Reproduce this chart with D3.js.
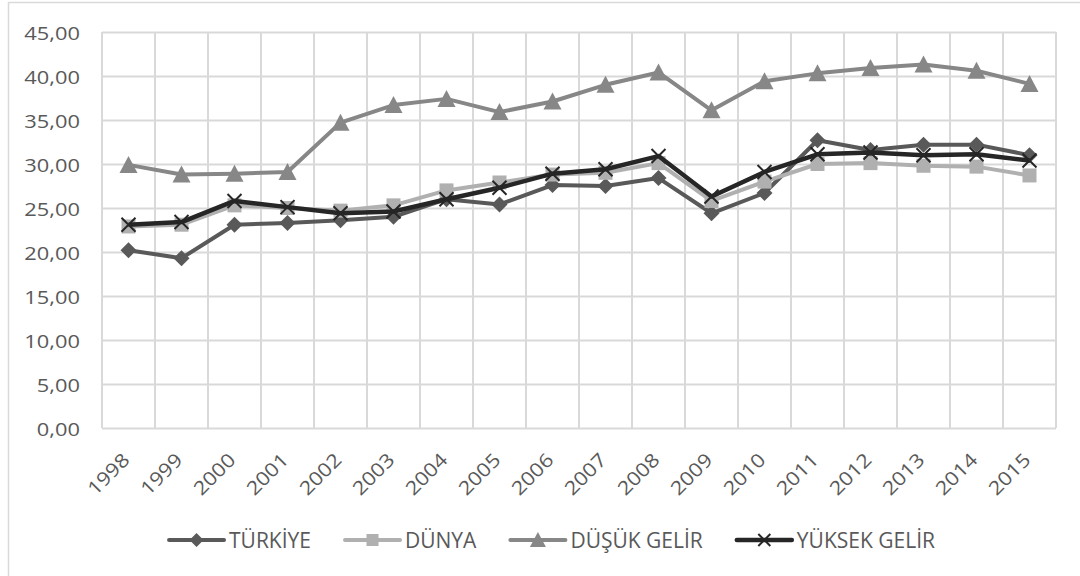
<!DOCTYPE html>
<html>
<head>
<meta charset="utf-8">
<script src="https://cdn.jsdelivr.net/npm/d3@7"></script>
<style>
  body { margin: 0; background: #fff; }
  text { font-family: "Open Sans", sans-serif; fill: #595959; }
</style>
</head>
<body>
<div id="chart"></div>
<script>
const years = ["1998", "1999", "2000", "2001", "2002", "2003", "2004", "2005", "2006",
  "2007", "2008", "2009", "2010", "2011", "2012", "2013", "2014", "2015"];
const turkiye = [20.2, 19.3, 23.1, 23.3, 23.6, 24.0, 26.0, 25.4, 27.6, 27.5, 28.4, 24.4, 26.7, 32.7, 31.6, 32.2, 32.2, 31.0];
const dunya = [22.9, 23.1, 25.3, 25.0, 24.7, 25.3, 27.0, 27.9, 28.8, 29.0, 30.1, 25.8, 28.0, 30.0, 30.1, 29.8, 29.7, 28.7];
const dusukGelir = [29.9, 28.8, 28.9, 29.1, 34.7, 36.7, 37.4, 35.9, 37.1, 39.0, 40.4, 36.1, 39.4, 40.3, 40.9, 41.3, 40.6, 39.1];
const yuksekGelir = [23.1, 23.4, 25.8, 25.1, 24.4, 24.6, 26.0, 27.3, 28.9, 29.4, 30.9, 26.3, 29.1, 31.1, 31.3, 31.0, 31.1, 30.4];
const yTicks = [0, 5, 10, 15, 20, 25, 30, 35, 40, 45];

const WIDTH = 1080;
const HEIGHT = 576;
const PLOT = { LEFT: 102, RIGHT: 1056, TOP: 32, BOTTOM: 428 };
const GRID_COLOR = "#d9d9d9";
const TEXT_STRETCH = 1.15; // the reference glyphs are drawn wider than normal

const series = [
  { name: "TÜRKİYE", values: turkiye, color: "#595959", marker: "diamond", width: 4 },
  { name: "DÜNYA", values: dunya, color: "#b0b0b0", marker: "square", width: 4 },
  { name: "DÜŞÜK GELİR", values: dusukGelir, color: "#878787", marker: "triangle", width: 4 },
  { name: "YÜKSEK GELİR", values: yuksekGelir, color: "#262626", marker: "cross", width: 4.5 },
];

const svg = d3.select("#chart").append("svg").attr("width", WIDTH).attr("height", HEIGHT);

// chart frame (top and left edges are all that show in the picture)
svg.append("path")
  .attr("d", `M8.5,${HEIGHT} V2.5 H${WIDTH}`)
  .attr("fill", "none")
  .attr("stroke", GRID_COLOR)
  .attr("stroke-width", 1.5);

const x = d3.scaleBand().domain(years).range([PLOT.LEFT, PLOT.RIGHT]).padding(0);
const y = d3.scaleLinear().domain([0, 45]).range([PLOT.BOTTOM, PLOT.TOP]);
const fmt = (v) => d3.format(".2f")(v).replace(".", ",");

// horizontal gridlines + y labels
const yAxis = svg.append("g")
  .attr("transform", `translate(${PLOT.LEFT},0)`)
  .call(d3.axisLeft(y).tickValues(yTicks).tickSize(-(PLOT.RIGHT - PLOT.LEFT)).tickFormat(fmt));
yAxis.select(".domain").remove();
yAxis.selectAll(".tick line").attr("stroke", GRID_COLOR).attr("stroke-width", 2);
yAxis.selectAll(".tick text")
  .attr("x", null)
  .attr("dy", null)
  .attr("dominant-baseline", "central")
  .attr("transform", `translate(-22,0) scale(${TEXT_STRETCH},1)`)
  .style("font-size", "19px")
  .style("font-family", "Open Sans")
  .attr("fill", "#595959");

// vertical gridlines at category boundaries
const bounds = years.map((d) => x(d)).concat([x(years[years.length - 1]) + x.bandwidth()]);
svg.append("g")
  .selectAll("line")
  .data(bounds)
  .enter()
  .append("line")
  .attr("x1", (d) => d)
  .attr("x2", (d) => d)
  .attr("y1", PLOT.TOP)
  .attr("y2", PLOT.BOTTOM)
  .attr("stroke", GRID_COLOR)
  .attr("stroke-width", 2);

// x labels, rotated
svg.append("g")
  .selectAll("text")
  .data(years)
  .enter()
  .append("text")
  .attr("transform", (d) => `translate(${x(d) + x.bandwidth() / 2 - 3},${PLOT.BOTTOM + 28}) rotate(-45) scale(${TEXT_STRETCH},1)`)
  .attr("text-anchor", "end")
  .attr("dominant-baseline", "central")
  .style("font-size", "19px")
  .text((d) => d);

function drawMarker(g, type, color, size) {
  const s = size / 2;
  if (type === "diamond") {
    g.append("path").attr("d", `M0,${-s} L${s},0 L0,${s} L${-s},0 Z`).attr("fill", color);
  } else if (type === "square") {
    g.append("rect").attr("x", -s + 1).attr("y", -s + 1).attr("width", size - 2).attr("height", size - 2).attr("fill", color);
  } else if (type === "triangle") {
    g.append("path").attr("d", `M0,${-s - 1} L${s + 1},${s} L${-s - 1},${s} Z`).attr("fill", color);
  } else {
    g.append("path")
      .attr("d", `M${-s + 1},${-s + 1} L${s - 1},${s - 1} M${-s + 1},${s - 1} L${s - 1},${-s + 1}`)
      .attr("stroke", color)
      .attr("stroke-width", 2);
  }
}

const line = d3.line()
  .x((d, i) => x(years[i]) + x.bandwidth() / 2)
  .y((d) => y(d));

series.forEach((s) => {
  const g = svg.append("g").attr("class", "series");
  g.append("path")
    .attr("d", line(s.values))
    .attr("fill", "none")
    .attr("stroke", s.color)
    .attr("stroke-width", s.width)
    .attr("stroke-linejoin", "round");
  g.selectAll("g.marker")
    .data(s.values)
    .enter()
    .append("g")
    .attr("class", "marker")
    .attr("transform", (d, i) => `translate(${x(years[i]) + x.bandwidth() / 2},${y(d)})`)
    .each(function () {
      drawMarker(d3.select(this), s.marker, s.color, 16);
    });
});

// legend, centred under the chart
const LEGEND_Y = 540;
const LEGEND_LINE = 55;
const LEGEND_GAP = 34;
const legend = svg.append("g");
let cursor = 0;
series.forEach((s) => {
  const item = legend.append("g").attr("transform", `translate(${cursor},${LEGEND_Y})`);
  item.append("line")
    .attr("x1", 0)
    .attr("x2", LEGEND_LINE)
    .attr("stroke", s.color)
    .attr("stroke-width", s.width)
    .attr("stroke-linecap", "round");
  drawMarker(item.append("g").attr("transform", `translate(${LEGEND_LINE / 2},0)`), s.marker, s.color, 14);
  const label = item.append("text")
    .attr("x", LEGEND_LINE + 5)
    .attr("dominant-baseline", "central")
    .style("font-size", "21px")
    .text(s.name);
  cursor += LEGEND_LINE + 5 + label.node().getComputedTextLength() + LEGEND_GAP;
});
const legendWidth = cursor - LEGEND_GAP;
legend.attr("transform", `translate(${552 - legendWidth / 2},0)`);
</script>
</body>
</html>
